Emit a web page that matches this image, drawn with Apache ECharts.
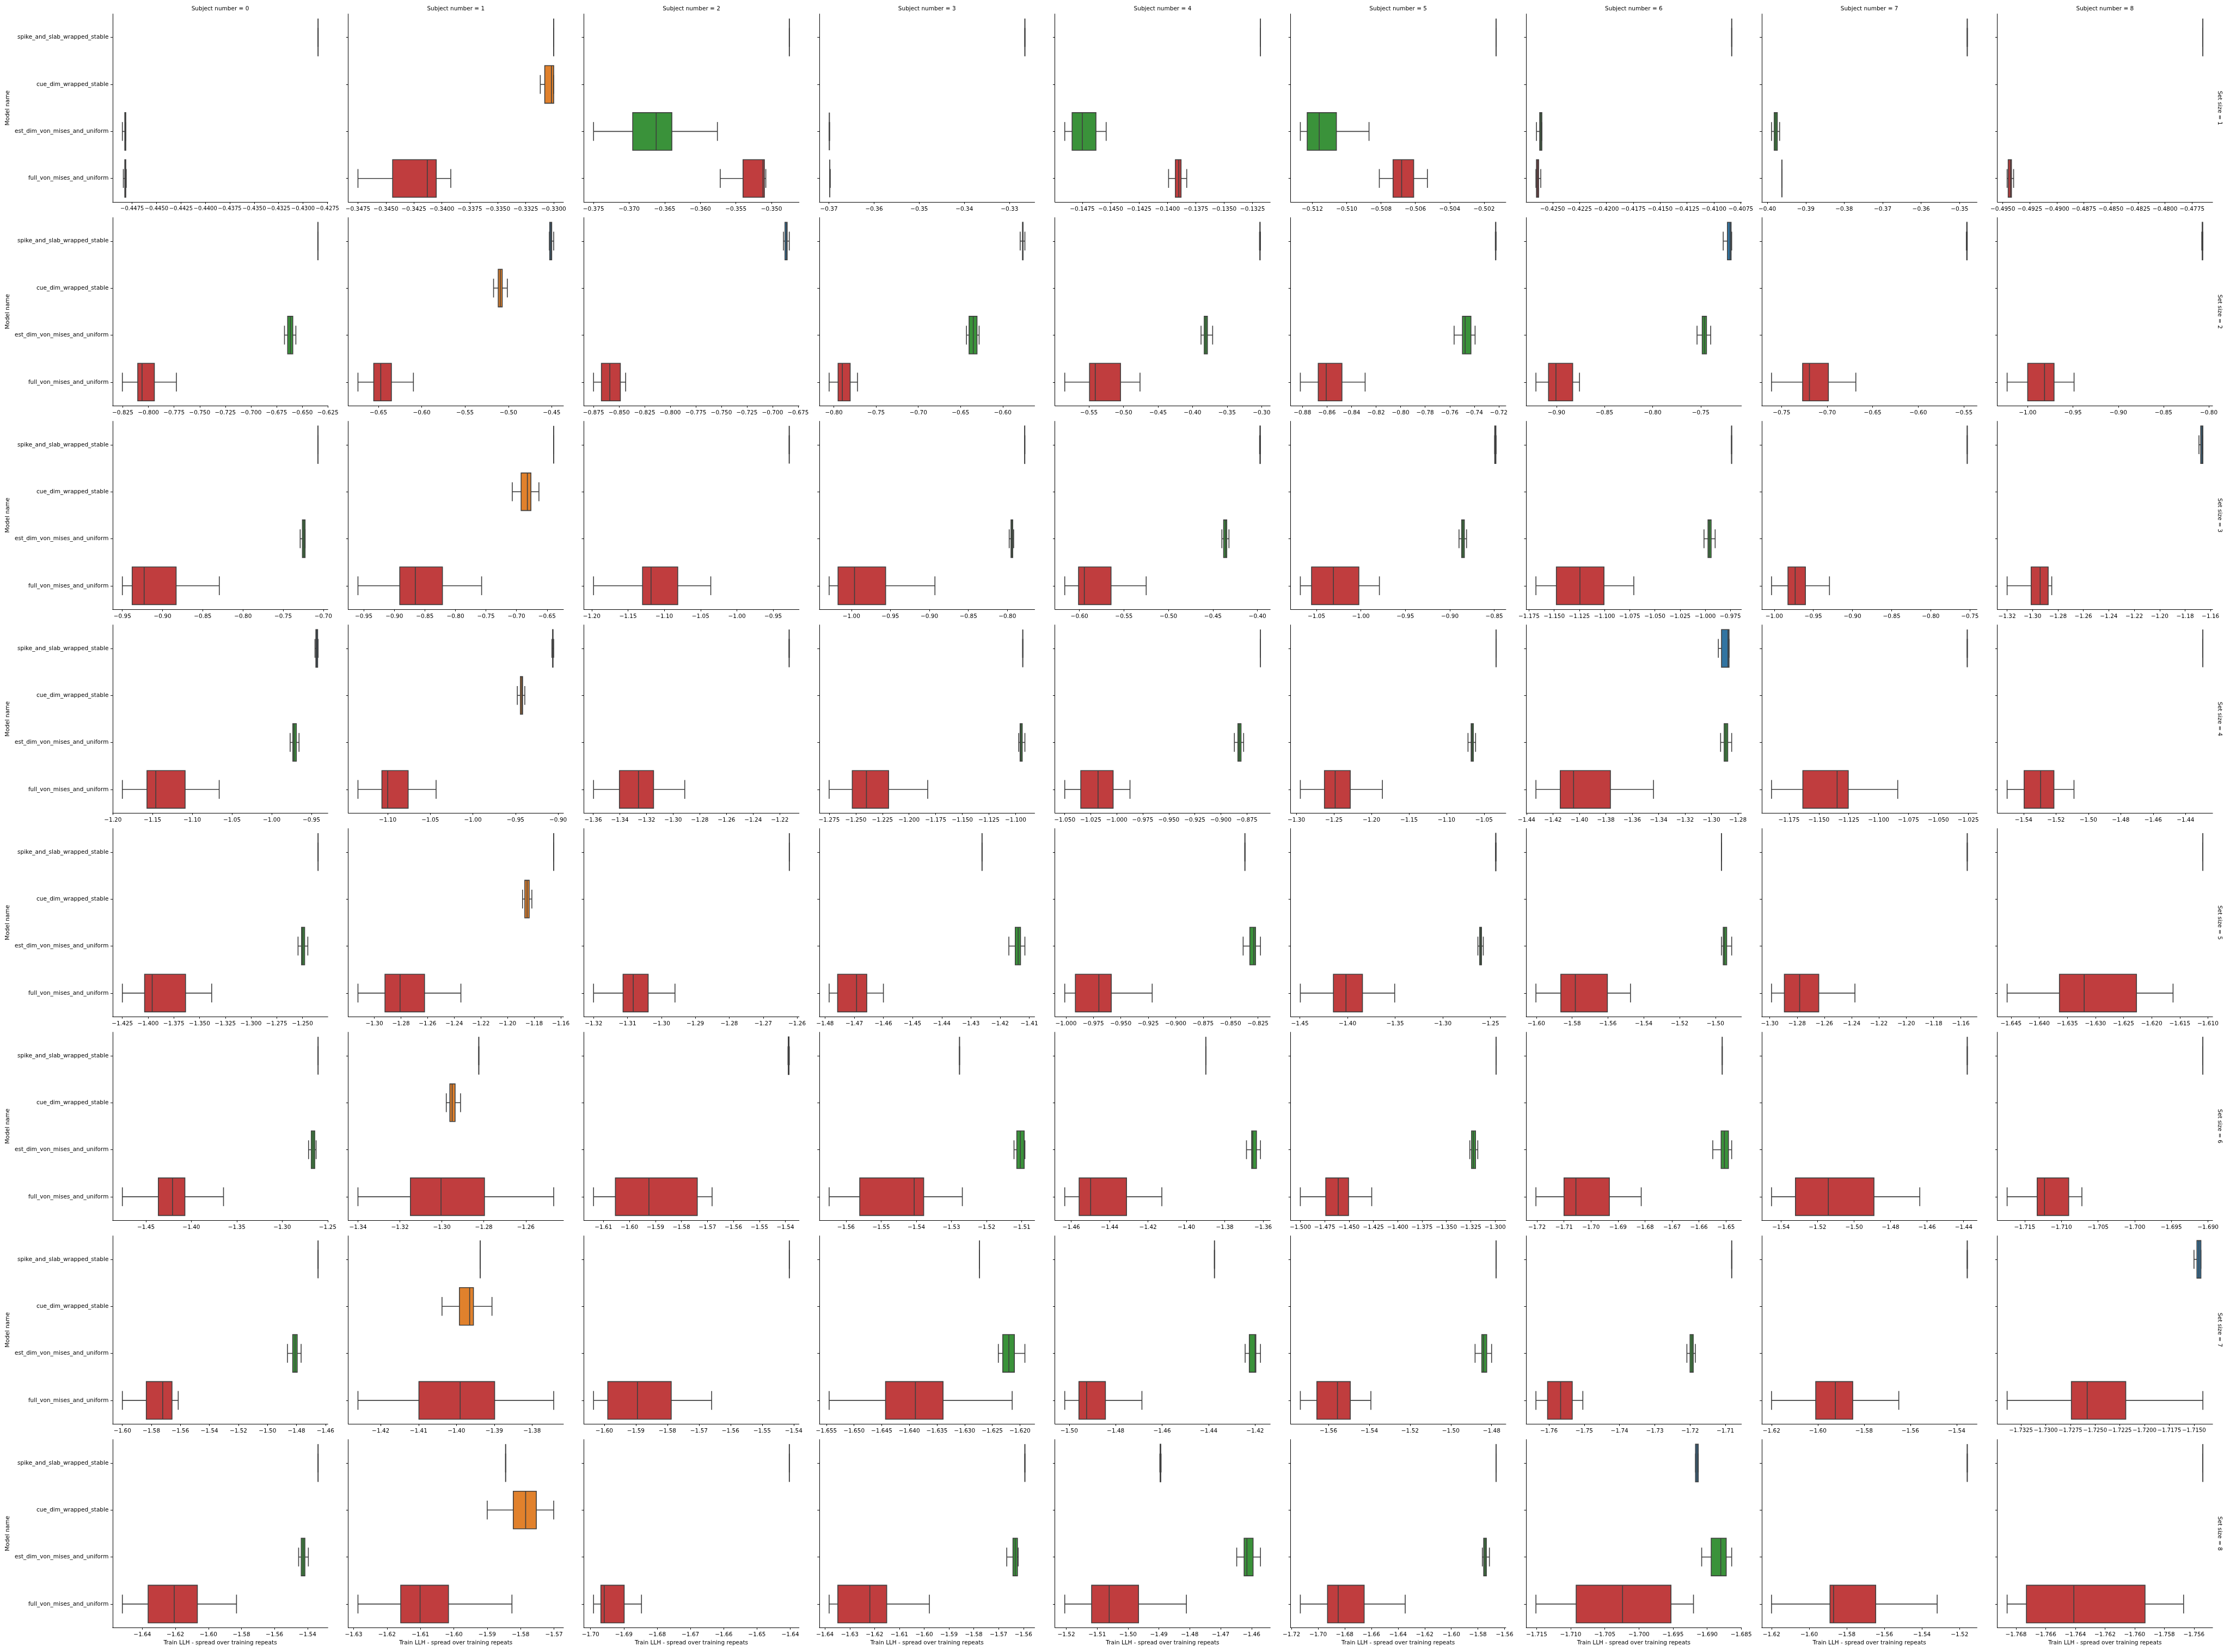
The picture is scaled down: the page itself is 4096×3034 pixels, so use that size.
<!DOCTYPE html>
<html>
<head>
<meta charset="utf-8">
<script src="https://cdn.jsdelivr.net/npm/echarts@6/dist/echarts.min.js"></script>
<style>
html,body{margin:0;padding:0;background:#ffffff;}
#chart{width:4096px;height:3034px;}
</style>
</head>
<body>
<div id="chart"></div>
<script>
// ---------------- data ----------------
const modelNames = ['spike_and_slab_wrapped_stable', 'cue_dim_wrapped_stable', 'est_dim_von_mises_and_uniform', 'full_von_mises_and_uniform'];
const subjectNumbers = [0, 1, 2, 3, 4, 5, 6, 7, 8];
const setSizes = [1, 2, 3, 4, 5, 6, 7, 8];

// each entry: [min, q1, median, q3, max] ; rows = set size, columns = subject
const spikeStats = [
  [[-0.42845,-0.42845,-0.42845,-0.42845,-0.42845],[-0.33,-0.33,-0.33,-0.33,-0.33],[-0.3475,-0.3475,-0.3475,-0.3475,-0.3475],[-0.3266,-0.3266,-0.3266,-0.3266,-0.3266],[-0.1318,-0.1318,-0.1318,-0.1318,-0.1318],[-0.5013,-0.5013,-0.5013,-0.5013,-0.5013],[-0.40835,-0.40835,-0.40835,-0.40835,-0.40835],[-0.348,-0.348,-0.348,-0.348,-0.348],[-0.4765,-0.4765,-0.4765,-0.4765,-0.4765]],
  [[-0.6348,-0.6347,-0.6346,-0.6346,-0.6345],[-0.4527,-0.4523,-0.4509,-0.45,-0.4477],[-0.6893,-0.6878,-0.6862,-0.6857,-0.6836],[-0.5794,-0.5766,-0.5763,-0.576,-0.5738],[-0.303,-0.3025,-0.3023,-0.3021,-0.3016],[-0.7228,-0.7226,-0.7225,-0.7224,-0.7222],[-0.7266,-0.7222,-0.7195,-0.7184,-0.7178],[-0.5472,-0.5468,-0.5466,-0.5464,-0.5462],[-0.8078,-0.8073,-0.807,-0.8068,-0.8066]],
  [[-0.7068,-0.7067,-0.7066,-0.7066,-0.7065],[-0.6393,-0.6392,-0.6392,-0.6392,-0.6391],[-0.928,-0.9279,-0.9279,-0.9279,-0.9278],[-0.778,-0.7779,-0.7778,-0.7777,-0.7776],[-0.3976,-0.3972,-0.397,-0.3968,-0.3966],[-0.8496,-0.8495,-0.849,-0.8482,-0.848],[-0.9739,-0.9738,-0.9738,-0.9737,-0.9737],[-0.7536,-0.7535,-0.7534,-0.7534,-0.7534],[-1.1691,-1.1677,-1.1667,-1.166,-1.166]],
  [[-0.9455,-0.9444,-0.9433,-0.9422,-0.9416],[-0.9073,-0.9065,-0.9062,-0.906,-0.9052],[-1.2131,-1.213,-1.213,-1.213,-1.2129],[-1.0934,-1.0933,-1.0933,-1.0933,-1.0932],[-0.8619,-0.8619,-0.8619,-0.8619,-0.8619],[-1.034,-1.034,-1.034,-1.034,-1.034],[-1.2948,-1.2924,-1.2875,-1.2867,-1.2867],[-1.0258,-1.0258,-1.0258,-1.0258,-1.0258],[-1.4293,-1.4293,-1.4293,-1.4293,-1.4293]],
  [[-1.2348,-1.2348,-1.2348,-1.2348,-1.2348],[-1.1653,-1.1653,-1.1653,-1.1653,-1.1653],[-1.2623,-1.2623,-1.2623,-1.2623,-1.2623],[-1.4262,-1.4262,-1.4262,-1.4262,-1.4262],[-0.8369,-0.8369,-0.8369,-0.8369,-0.8369],[-1.2447,-1.2445,-1.2444,-1.2443,-1.2441],[-1.4966,-1.4966,-1.4966,-1.4966,-1.4966],[-1.1553,-1.1553,-1.1553,-1.1553,-1.1553],[-1.6109,-1.6109,-1.6109,-1.6109,-1.6109]],
  [[-1.2605,-1.2605,-1.2605,-1.2605,-1.2605],[-1.2824,-1.2824,-1.2824,-1.2824,-1.2824],[-1.539,-1.5389,-1.5387,-1.5386,-1.5385],[-1.5277,-1.5277,-1.5277,-1.5277,-1.5277],[-1.3899,-1.3899,-1.3899,-1.3899,-1.3899],[-1.299,-1.299,-1.299,-1.299,-1.299],[-1.6514,-1.6514,-1.6514,-1.6514,-1.6514],[-1.438,-1.438,-1.438,-1.438,-1.438],[-1.6907,-1.6907,-1.6907,-1.6907,-1.6907]],
  [[-1.4651,-1.4651,-1.4651,-1.4651,-1.4651],[-1.3937,-1.3937,-1.3937,-1.3937,-1.3937],[-1.5414,-1.5414,-1.5414,-1.5414,-1.5414],[-1.6273,-1.6273,-1.6273,-1.6273,-1.6273],[-1.4375,-1.4375,-1.4375,-1.4375,-1.4375],[-1.4778,-1.4778,-1.4778,-1.4778,-1.4778],[-1.7082,-1.7082,-1.7082,-1.7082,-1.7082],[-1.5354,-1.5354,-1.5354,-1.5354,-1.5354],[-1.715,-1.7147,-1.7145,-1.7143,-1.7143]],
  [[-1.5336,-1.5336,-1.5336,-1.5336,-1.5336],[-1.5845,-1.5845,-1.5845,-1.5845,-1.5845],[-1.6403,-1.6403,-1.6403,-1.6403,-1.6403],[-1.5594,-1.5594,-1.5594,-1.5594,-1.5594],[-1.4897,-1.4896,-1.4895,-1.4894,-1.4893],[-1.5664,-1.5664,-1.5664,-1.5664,-1.5664],[-1.6917,-1.6917,-1.6915,-1.6913,-1.6913],[-1.5159,-1.5159,-1.5159,-1.5159,-1.5159],[-1.7554,-1.7554,-1.7554,-1.7554,-1.7554]]
];

const cueStats = [
  [null,[-0.3312,-0.3308,-0.3302,-0.33,-0.33],null,null,null,null,null,null,null],
  [null,[-0.5171,-0.5117,-0.5094,-0.5071,-0.5012],null,null,null,null,null,null,null],
  [null,[-0.7069,-0.6924,-0.6822,-0.6764,-0.6633],null,null,null,null,null,null,null],
  [null,[-0.9479,-0.9443,-0.9427,-0.9417,-0.9391],null,null,null,null,null,null,null],
  [null,[-1.1887,-1.187,-1.1853,-1.1837,-1.1817],null,null,null,null,null,null,null],
  [null,[-1.2979,-1.2962,-1.2951,-1.2937,-1.2911],null,null,null,null,null,null,null],
  [null,[-1.4038,-1.3992,-1.3965,-1.3955,-1.3906],null,null,null,null,null,null,null],
  [null,[-1.59,-1.5822,-1.5785,-1.5753,-1.5701],null,null,null,null,null,null,null]
];

const estStats = [
  [[-0.4485,-0.44825,-0.4482,-0.44815,-0.44815],null,[-0.375,-0.3695,-0.3662,-0.364,-0.3576],[-0.36995,-0.3699,-0.3699,-0.3699,-0.36985],[-0.14905,-0.1484,-0.1475,-0.1463,-0.1454],[-0.5127,-0.5123,-0.5116,-0.5106,-0.5087],[-0.4265,-0.4262,-0.4261,-0.426,-0.426],[-0.3989,-0.3982,-0.3978,-0.3974,-0.3968],null],
  [[-0.6673,-0.6642,-0.6615,-0.6592,-0.6562],null,null,[-0.643,-0.6399,-0.6349,-0.6305,-0.628],[-0.3877,-0.3831,-0.3808,-0.3785,-0.3709],[-0.7564,-0.7496,-0.7474,-0.7427,-0.7393],[-0.7538,-0.7484,-0.7462,-0.744,-0.7396],null,null],
  [[-0.7288,-0.726,-0.7243,-0.7227,-0.7227],null,null,[-0.7977,-0.7954,-0.7943,-0.7932,-0.792],[-0.44,-0.438,-0.436,-0.4345,-0.432],[-0.8897,-0.8867,-0.8852,-0.8837,-0.8812],[-1.0012,-0.9972,-0.9959,-0.9941,-0.9901],null,null],
  [[-0.9768,-0.9734,-0.9718,-0.969,-0.9656],null,null,[-1.0971,-1.0958,-1.095,-1.0938,-1.0913],[-0.887,-0.8836,-0.8823,-0.8806,-0.8781],[-1.0714,-1.0672,-1.066,-1.0643,-1.0613],[-1.2931,-1.2904,-1.2891,-1.2877,-1.2847],null,null],
  [[-1.2543,-1.2509,-1.2496,-1.2479,-1.2448],null,null,[-1.417,-1.4148,-1.4138,-1.413,-1.4115],[-0.8385,-0.8324,-0.8288,-0.8272,-0.8227],[-1.2632,-1.2613,-1.2603,-1.2594,-1.2575],[-1.4966,-1.4956,-1.4949,-1.4937,-1.4909],null,null],
  [[-1.271,-1.268,-1.2661,-1.2642,-1.2627],null,null,[-1.5122,-1.5114,-1.5104,-1.5093,-1.5091],[-1.3687,-1.366,-1.3654,-1.3635,-1.3614],[-1.326,-1.3242,-1.3223,-1.3201,-1.3178],[-1.6549,-1.6518,-1.6506,-1.6491,-1.6479],null,null],
  [[-1.4862,-1.4826,-1.481,-1.4795,-1.4768],null,null,[-1.6239,-1.6231,-1.622,-1.621,-1.6191],[-1.4243,-1.4225,-1.42,-1.4197,-1.4177],[-1.4881,-1.4848,-1.4839,-1.4824,-1.48],[-1.7209,-1.72,-1.7195,-1.7191,-1.7185],null,null],
  [[-1.5454,-1.5438,-1.5427,-1.5416,-1.5395],null,null,[-1.5667,-1.5642,-1.5633,-1.5624,-1.5621],[-1.4648,-1.4624,-1.4615,-1.4595,-1.4571],[-1.5767,-1.5757,-1.5747,-1.5737,-1.5714],[-1.6908,-1.6894,-1.688,-1.6872,-1.6864],null,null]
];

const fullStats = [
  [[-0.4484,-0.44825,-0.4482,-0.44815,-0.4481],[-0.3475,-0.3444,-0.3413,-0.3405,-0.3392],[-0.3572,-0.354,-0.3512,-0.351,-0.3508],[-0.3698,-0.3698,-0.3698,-0.3698,-0.3697],[-0.1399,-0.1393,-0.139,-0.1388,-0.1383],[-0.5081,-0.5073,-0.5068,-0.5061,-0.5053],[-0.42655,-0.4265,-0.4264,-0.4263,-0.4261],[-0.3962,-0.3962,-0.3962,-0.3962,-0.3962],[-0.4946,-0.4945,-0.4943,-0.4942,-0.494]],
  [[-0.8254,-0.8104,-0.8062,-0.7942,-0.7727],[-0.6736,-0.6554,-0.6473,-0.635,-0.6096],[-0.875,-0.8673,-0.8591,-0.8488,-0.8436],[-0.8056,-0.795,-0.79,-0.7807,-0.772],[-0.5851,-0.5492,-0.5409,-0.5043,-0.4761],[-0.8817,-0.8671,-0.8606,-0.8478,-0.8289],[-0.9213,-0.9082,-0.9005,-0.8831,-0.876],[-0.761,-0.7269,-0.7194,-0.6986,-0.6685],[-1.0227,-1.0,-0.9814,-0.9709,-0.9488]],
  [[-0.95,-0.9378,-0.9229,-0.8831,-0.8294],[-0.9595,-0.8911,-0.8656,-0.8212,-0.7571],[-1.1975,-1.13,-1.1183,-1.0815,-1.036],[-1.0285,-1.0171,-0.996,-0.9561,-0.8929],[-0.6165,-0.601,-0.5945,-0.5645,-0.525],[-1.0681,-1.0555,-1.0309,-1.0023,-0.9792],[-1.1681,-1.1478,-1.1244,-1.1005,-1.0709],[-1.0034,-0.9824,-0.9732,-0.9601,-0.9294],[-1.32,-1.3011,-1.294,-1.2877,-1.2849]],
  [[-1.188,-1.157,-1.1459,-1.109,-1.0661],[-1.1349,-1.1068,-1.1,-1.076,-1.0432],[-1.3597,-1.3403,-1.326,-1.3147,-1.2913],[-1.275,-1.2533,-1.24,-1.2192,-1.1825],[-1.05,-1.0346,-1.018,-1.0035,-0.9873],[-1.2947,-1.2626,-1.2483,-1.2282,-1.1854],[-1.4329,-1.4145,-1.4044,-1.3765,-1.3439],[-1.1896,-1.1634,-1.1347,-1.1254,-1.084],[-1.5502,-1.5397,-1.5295,-1.5213,-1.5089]],
  [[-1.425,-1.4034,-1.396,-1.3636,-1.3382],[-1.3123,-1.292,-1.2807,-1.2623,-1.235],[-1.32,-1.3113,-1.3083,-1.3039,-1.296],[-1.4786,-1.4757,-1.4692,-1.4657,-1.46],[-1.0011,-0.9914,-0.97,-0.9587,-0.9214],[-1.4495,-1.4148,-1.4016,-1.3843,-1.3505],[-1.6002,-1.5863,-1.5782,-1.5603,-1.5474],[-1.2987,-1.2893,-1.2781,-1.2641,-1.2376],[-1.6457,-1.6364,-1.632,-1.6227,-1.6162]],
  [[-1.4759,-1.4363,-1.4207,-1.4071,-1.3646],[-1.34,-1.315,-1.3004,-1.2797,-1.2467],[-1.6138,-1.6054,-1.5925,-1.5739,-1.5682],[-1.5648,-1.5561,-1.5406,-1.5379,-1.5269],[-1.4634,-1.4559,-1.4499,-1.4312,-1.4128],[-1.5,-1.4739,-1.4611,-1.4505,-1.4267],[-1.7204,-1.71,-1.7056,-1.6932,-1.6814],[-1.5452,-1.5321,-1.5141,-1.4891,-1.464],[-1.7174,-1.7133,-1.7123,-1.709,-1.7072]],
  [[-1.6,-1.5835,-1.5722,-1.5658,-1.5615],[-1.426,-1.4099,-1.399,-1.3899,-1.3743],[-1.6034,-1.5989,-1.5895,-1.5788,-1.566],[-1.6545,-1.6443,-1.6389,-1.6339,-1.6214],[-1.5019,-1.4958,-1.4925,-1.4844,-1.4687],[-1.5738,-1.5657,-1.5556,-1.5493,-1.5392],[-1.7637,-1.7604,-1.7567,-1.7534,-1.7504],[-1.62,-1.6009,-1.5924,-1.5849,-1.565],[-1.7339,-1.7274,-1.7258,-1.7219,-1.7141]],
  [[-1.6521,-1.6365,-1.6207,-1.6067,-1.583],[-1.6287,-1.6159,-1.6101,-1.6016,-1.5826],[-1.6991,-1.6969,-1.6959,-1.6899,-1.6847],[-1.6383,-1.6348,-1.6219,-1.6151,-1.5979],[-1.5205,-1.5118,-1.5061,-1.4966,-1.4811],[-1.7133,-1.6929,-1.6849,-1.6654,-1.6346],[-1.7151,-1.7092,-1.7024,-1.6953,-1.692],[-1.62,-1.5889,-1.587,-1.5646,-1.5319],[-1.7686,-1.7673,-1.7641,-1.7593,-1.7567]]
];

// x tick spacing
const tickSteps = [
  [0.0025, 0.0025, 0.005, 0.01, 0.0025, 0.002, 0.0025, 0.01, 0.0025],
  [0.025, 0.05, 0.025, 0.05, 0.05, 0.02, 0.05, 0.05, 0.05],
  [0.05, 0.05, 0.05, 0.05, 0.05, 0.05, 0.025, 0.05, 0.02],
  [0.05, 0.05, 0.02, 0.025, 0.025, 0.05, 0.02, 0.025, 0.02],
  [0.025, 0.02, 0.01, 0.01, 0.025, 0.05, 0.02, 0.02, 0.005],
  [0.05, 0.02, 0.01, 0.01, 0.02, 0.025, 0.01, 0.02, 0.005],
  [0.02, 0.01, 0.01, 0.005, 0.02, 0.02, 0.01, 0.02, 0.0025],
  [0.02, 0.01, 0.01, 0.01, 0.01, 0.02, 0.005, 0.02, 0.002]
];

// ---------------- styling / layout ----------------
const S = 4096 / 5400;
const FONT = 'DejaVu Sans';
const FS = 10.5;
const boxColors = ['#3274a1', '#e1812c', '#3a923a', '#c03d3e'];
const EDGE = '#3f3f3f';
const LW = 1.6;
const PANEL = { left0: 272.6, dx: 570.5, top0: 33.7, dy: 493.1, w: 521.4, h: 455.3 };
const allStats = [spikeStats, cueStats, estStats, fullStats];

const measureCtx = document.createElement('canvas').getContext('2d');
function textWidth(t, fs) {
  measureCtx.font = fs + 'px "' + FONT + '"';
  return measureCtx.measureText(t).width;
}
function decimalsOf(step) {
  let d = 0;
  while (d < 8 && Math.abs(Math.round(step * Math.pow(10, d)) - step * Math.pow(10, d)) > 1e-7) d++;
  return d;
}
function ticksFor(min, max, step) {
  const out = [];
  const k0 = Math.ceil(min / step - 1e-9), k1 = Math.floor(max / step + 1e-9);
  for (let k = k0; k <= k1; k++) out.push(+(k * step).toFixed(8));
  return out;
}
function fmt(v, d) {
  const s = Math.abs(v).toFixed(d);
  return (v < 0 && parseFloat(s) !== 0 ? '\u2212' : '') + s;
}

function renderBox(params, api) {
  const cat = api.value(0);
  const vals = [api.value(1), api.value(2), api.value(3), api.value(4), api.value(5)];
  const band = api.size([0, 1])[1];
  const half = band * 0.4, capHalf = band * 0.2;
  const yc = api.coord([vals[2], cat])[1];
  const xs = vals.map(v => api.coord([v, cat])[0]);
  const ls = { stroke: EDGE, lineWidth: LW, fill: null };
  return {
    type: 'group',
    children: [
      { type: 'polygon', shape: { points: [[xs[1], yc - half], [xs[3], yc - half], [xs[3], yc + half], [xs[1], yc + half]] },
        style: { fill: boxColors[cat], stroke: EDGE, lineWidth: LW } },
      { type: 'line', shape: { x1: xs[0], y1: yc, x2: xs[1], y2: yc }, style: ls },
      { type: 'line', shape: { x1: xs[3], y1: yc, x2: xs[4], y2: yc }, style: ls },
      { type: 'line', shape: { x1: xs[0], y1: yc - capHalf, x2: xs[0], y2: yc + capHalf }, style: ls },
      { type: 'line', shape: { x1: xs[4], y1: yc - capHalf, x2: xs[4], y2: yc + capHalf }, style: ls },
      { type: 'line', shape: { x1: xs[2], y1: yc - half, x2: xs[2], y2: yc + half }, style: ls }
    ]
  };
}

const grids = [], xAxes = [], yAxes = [], series = [], graphics = [];
setSizes.forEach((setSize, r) => {
  subjectNumbers.forEach((subj, c) => {
    const idx = grids.length;
    const left = S * (PANEL.left0 + PANEL.dx * c);
    const top = S * (PANEL.top0 + PANEL.dy * r);
    const w = S * PANEL.w, h = S * PANEL.h;
    grids.push({ left: left, top: top, width: w, height: h, containLabel: false, outerBoundsMode: 'none' });

    const items = [];
    let lo = Infinity, hi = -Infinity;
    allStats.forEach((arr, m) => {
      const st = arr[r][c];
      if (st) {
        items.push([m].concat(st));
        lo = Math.min(lo, st[0]); hi = Math.max(hi, st[4]);
      }
    });
    const pad = (hi - lo) * 0.05;
    const xmin = lo - pad, xmax = hi + pad;
    const step = tickSteps[r][c];
    const dec = decimalsOf(step);
    const ticks = ticksFor(xmin, xmax, step);

    // keep neighbouring tick labels from colliding (they just touch in the reference)
    const spacing = step / (xmax - xmin) * w;
    let maxW = 0;
    ticks.forEach(t => { maxW = Math.max(maxW, textWidth(fmt(t, dec), FS)); });
    const labelFs = maxW > spacing - 1.5 ? FS * (spacing - 1.5) / maxW : FS;

    xAxes.push({
      gridIndex: idx, type: 'value', min: xmin, max: xmax, scale: true,
      axisLine: { show: true, onZero: false, lineStyle: { color: '#000', width: 1 } },
      axisTick: { show: true, inside: false, length: 3.7, customValues: ticks, lineStyle: { color: '#000', width: 1 } },
      axisLabel: { show: true, customValues: ticks, margin: 7.4, fontSize: labelFs, fontFamily: FONT, color: '#000',
        showMinLabel: true, showMaxLabel: true, hideOverlap: false, interval: 0,
        formatter: v => fmt(v, dec) },
      splitLine: { show: false }
    });
    yAxes.push({
      gridIndex: idx, type: 'category', data: modelNames, inverse: true,
      axisLine: { show: true, lineStyle: { color: '#000', width: 1 } },
      axisTick: { show: true, alignWithLabel: true, length: 3.7, lineStyle: { color: '#000', width: 1 } },
      axisLabel: { show: c === 0, margin: 7.4, fontSize: FS, fontFamily: FONT, color: '#000', interval: 0 },
      splitLine: { show: false }
    });
    series.push({
      type: 'custom', coordinateSystem: 'cartesian2d', xAxisIndex: idx, yAxisIndex: idx,
      dimensions: ['model', 'min', 'q1', 'median', 'q3', 'max'],
      encode: { x: [1, 2, 3, 4, 5], y: 0 },
      renderItem: renderBox, data: items, silent: true, clip: false
    });

    if (r === 0) {
      graphics.push({ type: 'text', x: left + w / 2, y: S * 21,
        style: { text: 'Subject number = ' + subj, fontSize: FS, fontFamily: FONT, fill: '#000',
          align: 'center', verticalAlign: 'middle', textAlign: 'center', textVerticalAlign: 'middle' } });
    }
    if (r === setSizes.length - 1) {
      graphics.push({ type: 'text', x: left + w / 2, y: S * 3978,
        style: { text: 'Train LLH - spread over training repeats', fontSize: FS, fontFamily: FONT, fill: '#000',
          align: 'center', verticalAlign: 'middle', textAlign: 'center', textVerticalAlign: 'middle' } });
    }
    if (c === 0) {
      graphics.push({ type: 'text', x: S * 19, y: top + h / 2, rotation: Math.PI / 2,
        style: { text: 'Model name', fontSize: FS, fontFamily: FONT, fill: '#000',
          align: 'center', verticalAlign: 'middle', textAlign: 'center', textVerticalAlign: 'middle' } });
    }
    if (c === subjectNumbers.length - 1) {
      graphics.push({ type: 'text', x: S * 5374, y: top + h / 2, rotation: -Math.PI / 2,
        style: { text: 'Set size = ' + setSize, fontSize: FS, fontFamily: FONT, fill: '#000',
          align: 'center', verticalAlign: 'middle', textAlign: 'center', textVerticalAlign: 'middle' } });
    }
  });
});

const chart = echarts.init(document.getElementById('chart'), null, { renderer: 'canvas', width: 4096, height: 3034 });
chart.setOption({
  backgroundColor: '#ffffff',
  animation: false,
  textStyle: { fontFamily: FONT },
  grid: grids,
  xAxis: xAxes,
  yAxis: yAxes,
  series: series,
  graphic: { elements: graphics }
});
</script>
</body>
</html>
